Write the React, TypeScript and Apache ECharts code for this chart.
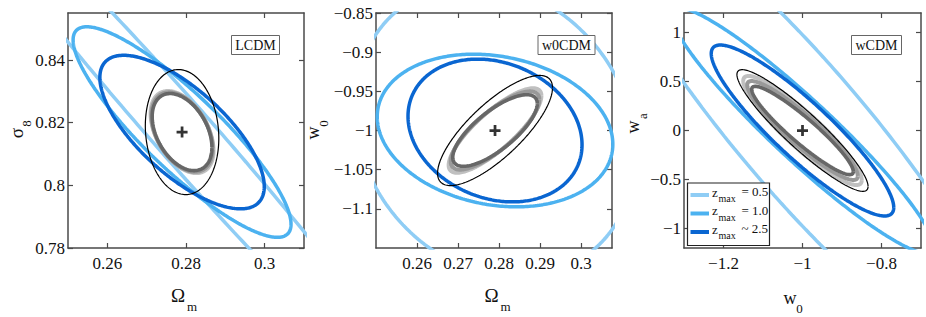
import React, { useEffect, useRef } from "react";
import * as echarts from "echarts";

// ---------- DATA ----------
// contour order: zmax=0.5, zmax=1.0, zmax~2.5, gray outer, gray mid, gray inner, black
const contourColors = ["#8fcdf5", "#4cb2f0", "#0a66d1", "#c0c0c0", "#999999", "#676767", "#000000"];
const contourWidths = [3.5, 3.5, 3.5, 4, 4, 3.6, 1.2];

// Panel 1: LCDM (Omega_m, sigma_8)
const lcdmCenter = [0.279, 0.817];
const lcdmSigmaX = [0.0591, 0.0277, 0.0209, 0.0080, 0.0078, 0.0076, 0.00934];
const lcdmSigmaY = [0.0841, 0.0336, 0.0245, 0.0131, 0.0127, 0.0123, 0.01995];
const lcdmRho = [-0.9865, -0.875, -0.71, -0.45, -0.42, -0.4, -0.1];
const lcdmXTicks = [0.26, 0.28, 0.3];
const lcdmYTicks = [0.78, 0.8, 0.82, 0.84];

// Panel 2: w0CDM (Omega_m, w0)
const w0Center = [0.279, -1.0];
const w0SigmaX = [0.0342, 0.0287, 0.0212, 0.0113, 0.0108, 0.0103, 0.0140];
const w0SigmaY = [0.1873, 0.0974, 0.0911, 0.054, 0.05, 0.0457, 0.0703];
const w0Rho = [-0.156, -0.18, -0.2, 0.82, 0.79, 0.75, 0.775];
const w0XTicks = [0.26, 0.27, 0.28, 0.29, 0.3];
const w0YTicks = [-1.1, -1.05, -1, -0.95, -0.9, -0.85];

// Panel 3: wCDM (w0, wa)
const wCenter = [-1.0, 0.0];
const wSigmaX = [0.508, 0.332, 0.231, 0.15, 0.14, 0.1286, 0.166];
const wSigmaY = [2.369, 1.253, 0.873, 0.557, 0.505, 0.451, 0.621];
const wRho = [-0.911, -0.944, -0.9, -0.91, -0.92, -0.93, -0.92];
const wXTicks = [-1.2, -1, -0.8];
const wYTicks = [-1, -0.5, 0, 0.5, 1];

const legendLabels = ["= 0.5", "= 1.0", "~ 2.5"];

// ---------- helpers ----------
function ellipsePoints(cx: number, cy: number, sx: number, sy: number, rho: number) {
  const pts: number[][] = [];
  const n = 360;
  const s = Math.sqrt(1 - rho * rho);
  for (let i = 0; i <= n; i++) {
    const t = (2 * Math.PI * i) / n;
    pts.push([cx + sx * Math.cos(t), cy + sy * (rho * Math.cos(t) + s * Math.sin(t))]);
  }
  return pts;
}

const fmt = (v: number) => parseFloat(v.toFixed(4)).toString().replace("-", "\u2212");
const FONT = "Liberation Serif";
const AX = "#4a4a4a";

function xAxes(g: number, min: number, max: number, ticks: number[]) {
  const base = {
    gridIndex: g,
    type: "value",
    min,
    max,
    splitLine: { show: false },
    axisLine: { show: true, onZero: false, lineStyle: { color: AX, width: 1.5 } },
    axisTick: { show: true, inside: true, length: 5, customValues: ticks, lineStyle: { color: AX, width: 1.2 } },
  };
  return [
    { ...base, position: "bottom", axisLabel: { show: true, customValues: ticks, formatter: fmt, margin: 7, color: "#111", fontSize: 17, fontFamily: FONT } },
    { ...base, position: "top", axisLabel: { show: false } },
  ];
}
function yAxes(g: number, min: number, max: number, ticks: number[]) {
  const base = {
    gridIndex: g,
    type: "value",
    min,
    max,
    splitLine: { show: false },
    axisLine: { show: true, onZero: false, lineStyle: { color: AX, width: 1.5 } },
    axisTick: { show: true, inside: true, length: 5, customValues: ticks, lineStyle: { color: AX, width: 1.2 } },
  };
  return [
    { ...base, position: "left", axisLabel: { show: true, customValues: ticks, formatter: fmt, margin: 3, color: "#111", fontSize: 17, fontFamily: FONT } },
    { ...base, position: "right", axisLabel: { show: false } },
  ];
}

function panelSeries(g: number, c: number[], sx: number[], sy: number[], rho: number[]) {
  const out: any[] = [];
  for (let i = 0; i < sx.length; i++) {
    out.push({
      type: "line",
      xAxisIndex: 2 * g,
      yAxisIndex: 2 * g,
      data: ellipsePoints(c[0], c[1], sx[i], sy[i], rho[i]),
      showSymbol: false,
      symbol: "none",
      clip: true,
      silent: true,
      smooth: false,
      lineStyle: { color: contourColors[i], width: contourWidths[i] },
      z: 2 + i,
    });
  }
  out.push({
    type: "scatter",
    xAxisIndex: 2 * g,
    yAxisIndex: 2 * g,
    data: [c],
    symbol: "path://M3 0H5V3H8V5H5V8H3V5H0V3H3Z",
    symbolSize: 11,
    itemStyle: { color: "#000" },
    silent: true,
    z: 20,
  });
  return out;
}

function txt(x: number, y: number, text: string, size: number, extra: any = {}) {
  return {
    type: "text",
    x,
    y,
    silent: true,
    z: 100,
    ...extra,
    style: { text, fontSize: size, fontFamily: FONT, fill: "#111", align: "center", verticalAlign: "middle", ...(extra.style || {}) },
  };
}

function box(x: number, y: number, w: number, h: number, label: string) {
  return [
    { type: "rect", silent: true, z: 100, shape: { x, y, width: w, height: h }, style: { fill: "#fff", stroke: "#666", lineWidth: 1 } },
    txt(x + w / 2, y + h / 2 + 0.5, label, 14),
  ];
}

export default function App() {
  const ref = useRef<HTMLDivElement>(null);
  useEffect(() => {
    if (!ref.current) return;
    const chart = echarts.init(ref.current, null, { renderer: "svg" });
    const R = Math.PI / 2;
    const graphic: any[] = [
      // x axis names
      txt(178, 295, "\u03A9", 19),
      txt(192, 306, "m", 13),
      txt(491.5, 295, "\u03A9", 19),
      txt(505.5, 306, "m", 13),
      txt(790, 298, "w", 18),
      txt(799.5, 308.5, "0", 13),
      // y axis names (rotated)
      txt(16.5, 133, "\u03C3", 19, { rotation: R }),
      txt(26, 123.5, "8", 13, { rotation: R }),
      txt(313, 133, "w", 18, { rotation: R }),
      txt(323, 123.5, "0", 13, { rotation: R }),
      txt(633, 127, "w", 18, { rotation: R }),
      txt(642.5, 116, "a", 13, { rotation: R }),
      ...box(231.5, 35.5, 48, 19, "LCDM"),
      ...box(538, 35.5, 57, 19, "w0CDM"),
      ...box(851.5, 35.5, 50, 19, "wCDM"),
      // legend
      { type: "rect", silent: true, z: 100, shape: { x: 687.5, y: 183, width: 82, height: 62.5 }, style: { fill: "#fff", stroke: "#222", lineWidth: 1.2 } },
    ];
    const rowY = [193, 211.5, 230];
    for (let i = 0; i < 3; i++) {
      graphic.push({
        type: "line",
        silent: true,
        z: 101,
        shape: { x1: 690.5, y1: rowY[i] + 2, x2: 709, y2: rowY[i] + 2 },
        style: { stroke: contourColors[i], lineWidth: 4 },
      });
      graphic.push(txt(715, rowY[i] - 1, "z", 13, { z: 101 }));
      graphic.push(txt(718.5, rowY[i] + 5.5, "max", 10, { z: 101, style: { align: "left" } }));
      graphic.push(txt(741.5, rowY[i] - 1.5, legendLabels[i], 13, { z: 101, style: { align: "left" } }));
    }

    chart.setOption({
      animation: false,
      backgroundColor: "#fff",
      textStyle: { fontFamily: FONT },
      grid: [
        { left: 68, top: 13, width: 236, height: 235 },
        { left: 376, top: 13, width: 236, height: 235 },
        { left: 684, top: 13, width: 237, height: 235 },
      ],
      xAxis: [
        ...xAxes(0, 0.25, 0.31, lcdmXTicks),
        ...xAxes(1, 0.25, 0.3075, w0XTicks),
        ...xAxes(2, -1.3, -0.7, wXTicks),
      ],
      yAxis: [
        ...yAxes(0, 0.78, 0.855, lcdmYTicks),
        ...yAxes(1, -1.15, -0.85, w0YTicks),
        ...yAxes(2, -1.2, 1.2, wYTicks),
      ],
      series: [
        ...panelSeries(0, lcdmCenter, lcdmSigmaX, lcdmSigmaY, lcdmRho),
        ...panelSeries(1, w0Center, w0SigmaX, w0SigmaY, w0Rho),
        ...panelSeries(2, wCenter, wSigmaX, wSigmaY, wRho),
      ],
      graphic,
    });
    return () => chart.dispose();
  }, []);
  return <div ref={ref} style={{ position: "absolute", left: 0, top: 0, width: 926, height: 317 }} />;
}
